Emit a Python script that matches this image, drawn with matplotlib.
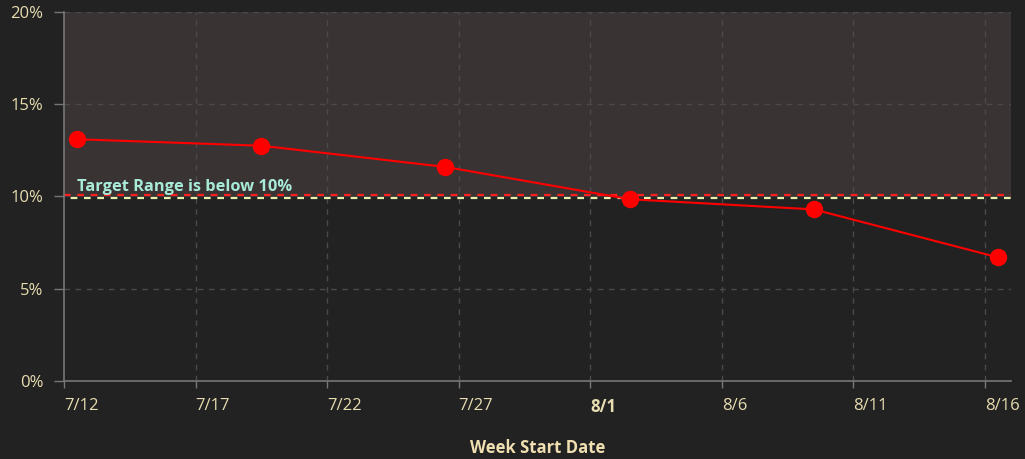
import matplotlib.pyplot as plt
import matplotlib.transforms as mtransforms
from matplotlib.ticker import FuncFormatter
import pandas as pd

# weekly values (week start dates, plotted at midday)
week_starts = ['2021-07-12 12:00', '2021-07-19 12:00', '2021-07-26 12:00',
               '2021-08-02 12:00', '2021-08-09 12:00', '2021-08-16 12:00']
rates = [13.1, 12.75, 11.6, 9.85, 9.3, 6.7]

target = 10
tick_dates = ['2021-07-12', '2021-07-17', '2021-07-22', '2021-07-27',
              '2021-08-01', '2021-08-06', '2021-08-11', '2021-08-16']
tick_labels = ['7/12', '7/17', '7/22', '7/27', '8/1', '8/6', '8/11', '8/16']
y_ticks = [0, 5, 10, 15, 20]

bg = '#222222'
label_color = '#e8ddb0'

plt.rcParams['font.family'] = ['Open Sans', 'DejaVu Sans']

fig = plt.figure(figsize=(10.25, 4.59), dpi=100, facecolor=bg)
ax = fig.add_axes([0.0624, 0.170, 0.924, 0.804])
ax.set_facecolor(bg)

x = pd.to_datetime(week_starts)
xmin = pd.Timestamp('2021-07-12')
xmax = pd.Timestamp('2021-08-17')
ax.set_xlim(xmin, xmax)
ax.set_ylim(0, 20)

# shaded area above target
ax.axhspan(target, 20, color='#3a3333', zorder=0)

# grid
for d in tick_dates[1:]:
    ax.axvline(pd.Timestamp(d), color='#4a4a4a', lw=1, ls=(0, (4, 4)), zorder=1)
for yv in [5, 15, 20]:
    ax.axhline(yv, color='#4a4a4a', lw=1, ls=(0, (4, 4)), zorder=1)

# target lines
ax.axhline(target + 0.08, color='#ff2020', lw=1.6, ls=(0, (3, 3)), zorder=2)
ax.axhline(target - 0.06, color='#e8f0b0', lw=1.6, ls=(3, (3, 3)), zorder=2)
ax.text(xmin + pd.Timedelta(hours=12), target + 0.1, 'Target Range is below 10%',
        color='#a8ead8', fontsize=11.8, fontweight='bold', ha='left', va='bottom', zorder=3)

ax.plot(x, rates, color='#ff0000', lw=1.5, marker='o', markersize=11.5,
        markerfacecolor='#ff0000', markeredgecolor='#ff0000', zorder=4)

ax.set_xticks(pd.to_datetime(tick_dates))
ax.set_xticklabels(tick_labels)
shift = mtransforms.ScaledTranslation(5 / 100, 0, fig.dpi_scale_trans)
for lbl in ax.get_xticklabels():
    lbl.set_horizontalalignment('left')
    lbl.set_transform(lbl.get_transform() + shift)
    if lbl.get_text() == '8/1':
        lbl.set_fontweight('bold')
ax.set_yticks(y_ticks)
ax.yaxis.set_major_formatter(FuncFormatter(lambda v, p: f'{v:.0f}%'))

ax.tick_params(axis='both', colors='#777777', labelcolor=label_color, labelsize=12)
ax.tick_params(axis='y', length=7, width=1, pad=8)
ax.tick_params(axis='x', length=5, width=1, pad=7)

for s in ['top', 'right']:
    ax.spines[s].set_visible(False)
for s in ['left', 'bottom']:
    ax.spines[s].set_color('#777777')
    ax.spines[s].set_linewidth(1.2)

ax.set_xlabel('Week Start Date', color='#f0dfb0', fontsize=12, fontweight='bold', labelpad=17)

fig.savefig('out.png', dpi=100, facecolor=bg)
